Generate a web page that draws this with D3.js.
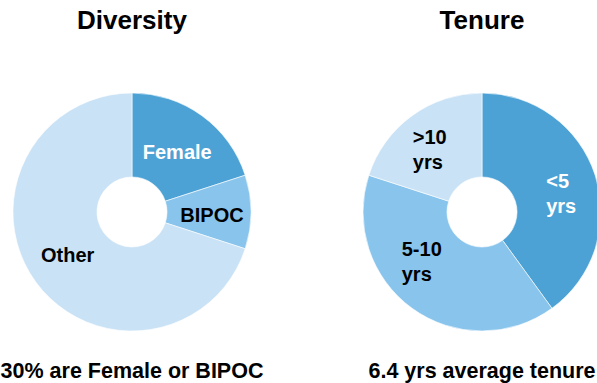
<!DOCTYPE html>
<html><head><meta charset="utf-8">
<script src="https://cdn.jsdelivr.net/npm/d3@7"></script>
<style>
html,body{margin:0;padding:0;background:#fff;}
text{font-family:"Liberation Sans",Arial,sans-serif;font-weight:bold;}
</style></head>
<body>
<svg id="chart" width="597" height="383"></svg>
<script>
const diversityLabels = ["Female", "BIPOC", "Other"];
const diversityValues = [20, 10, 70];
const diversityColors = ["#4DA2D5", "#88C4EC", "#C9E2F5"];
const diversityTextColors = ["#ffffff", "#000000", "#000000"];

const tenureLabels = [["<5", "yrs"], ["5-10", "yrs"], [">10", "yrs"]];
const tenureValues = [40, 40, 20];
const tenureColors = ["#4DA2D5", "#88C4EC", "#C9E2F5"];
const tenureTextColors = ["#ffffff", "#000000", "#000000"];

const titles = ["Diversity", "Tenure"];
const captions = ["30% are Female or BIPOC", "6.4 yrs average tenure"];

// layout (label nudges from arc centroid, pixels)
const diversityNudge = [[0, 2], [3, 3], [-2, -2]];
const tenureNudge = [[6, 5], [-15, -13], [-7, 0]];

const svg = d3.select("#chart");
const R = 119, r0 = 35;
const centers = [[132, 212], [482, 212]];

function donut(cx, cy, values, colors, labels, textColors, nudges, title, caption) {
  const g = svg.append("g").attr("transform", `translate(${cx},${cy})`);
  const pie = d3.pie().sort(null).value(d => d);
  const arc = d3.arc().innerRadius(r0).outerRadius(R);
  const arcs = pie(values);
  g.selectAll("path").data(arcs).enter().append("path")
    .attr("d", arc).attr("fill", (d, i) => colors[i])
    .attr("stroke", "#fff").attr("stroke-width", 0.6);
  arcs.forEach((a, i) => {
    let [x, y] = arc.centroid(a);
    x += nudges[i][0]; y += nudges[i][1];
    const lines = Array.isArray(labels[i]) ? labels[i] : [labels[i]];
    const lh = 24.7;
    const t = g.append("text").attr("fill", textColors[i]).style("font-size", "20px");
    const tspans = lines.map((ln, k) => t.append("tspan").text(ln)
      .attr("y", y + (k - (lines.length - 1) / 2) * lh).attr("dy", "0.35em"));
    if (lines.length > 1) {
      const w = d3.max(tspans.map(s => s.node().getComputedTextLength()));
      tspans.forEach(s => s.attr("x", x - w / 2));
    } else {
      t.attr("text-anchor", "middle");
      tspans.forEach(s => s.attr("x", x));
    }
  });
  svg.append("text").attr("x", cx).attr("y", 29.3).attr("text-anchor", "middle")
    .style("font-size", "26px").attr("fill", "#000").text(title);
  svg.append("text").attr("x", cx).attr("y", 378).attr("text-anchor", "middle")
    .style("font-size", "21.5px").attr("fill", "#000").text(caption);
}

donut(centers[0][0], centers[0][1], diversityValues, diversityColors, diversityLabels, diversityTextColors, diversityNudge, titles[0], captions[0]);
donut(centers[1][0], centers[1][1], tenureValues, tenureColors, tenureLabels, tenureTextColors, tenureNudge, titles[1], captions[1]);
</script>
</body></html>
